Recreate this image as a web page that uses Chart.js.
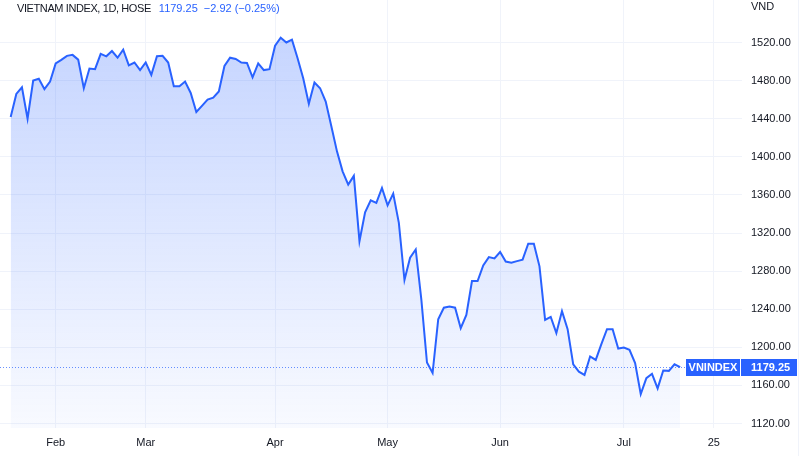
<!DOCTYPE html>
<html>
<head>
<meta charset="utf-8">
<script src="https://cdn.jsdelivr.net/npm/chart.js@4.4.1/dist/chart.umd.min.js"></script>
<style>
  html, body { margin: 0; padding: 0; background: #fff; }
  #wrap { position: relative; width: 810px; height: 456px; }
  #legend {
    position: absolute; left: 17px; top: 2px;
    font: 11px "Liberation Sans", Arial, sans-serif; color: #131722;
    white-space: nowrap;
  }
  #legend .name { letter-spacing: -0.4px; margin-right: 8px; }
  #legend .val { color: #2962ff; margin-right: 6px; }
</style>
</head>
<body>
<div id="wrap">
  <canvas id="chart" width="810" height="456"></canvas>
  <div id="legend"></div>
</div>
<script>
// VN-Index daily closes, 19 Jan - 15 Jul 2022
const janCloses = [1441.7, 1466, 1473, 1440, 1480, 1482, 1471, 1479];
const febCloses = [1498, 1501.7, 1506, 1507, 1502, 1472, 1492.6, 1492, 1508, 1505.5, 1511, 1504, 1512.5, 1496, 1499, 1491];
const marCloses = [1499, 1486, 1505.5, 1506, 1499, 1474, 1474, 1479, 1467, 1447, 1453.5, 1460, 1462, 1468.5, 1495.4, 1504, 1502.7, 1499, 1498.5, 1483.5, 1498, 1491, 1492];
const aprCloses = [1516.6, 1525, 1520, 1523, 1503.5, 1482.5, 1455.6, 1478, 1472, 1458, 1432, 1405.7, 1384.7, 1370.8, 1380, 1311.4, 1341.8, 1354.4, 1351.6, 1367.3];
const mayCloses = [1349, 1361.4, 1330.7, 1270.6, 1294, 1302.7, 1250, 1184, 1173, 1229.5, 1241.6, 1242.7, 1241.6, 1220, 1234, 1269.6, 1269.6, 1286, 1294.7, 1293.3];
const junCloses = [1300, 1290, 1288.8, 1290.5, 1292, 1308.7, 1308.7, 1285, 1228.7, 1232, 1215, 1238, 1219, 1182, 1174.4, 1171, 1190.4, 1186.8, 1203.3, 1219, 1219, 1198.7];
const julCloses = [1199.8, 1197.3, 1183.4, 1150.9, 1167.6, 1172.2, 1156.9, 1175.7, 1175.3, 1182.17, 1179.25];

// time axis: trading-day index of each label
const xTickIdx = [8, 24, 47, 67, 87, 109, 125];
const xTickLabels = ['Feb', 'Mar', 'Apr', 'May', 'Jun', 'Jul', '25'];
const priceTicks = [1120, 1160, 1200, 1240, 1280, 1320, 1360, 1400, 1440, 1480, 1520];

const closes = [].concat(janCloses, febCloses, marCloses, aprCloses, mayCloses, junCloses, julCloses);
const last = closes[closes.length - 1];
const prev = closes[closes.length - 2];
const chg = last - prev;
const pct = chg / prev * 100;
const fmt = v => (v < 0 ? '\u2212' : '') + Math.abs(v).toFixed(2);

document.getElementById('legend').innerHTML =
  '<span class="name">VIETNAM INDEX, 1D, HOSE</span>' +
  '<span class="val">' + last.toFixed(2) + '</span>' +
  '<span class="val">' + fmt(chg) + ' (' + fmt(pct) + '%)</span>';

const BLUE = '#2962ff';
const TEXT = '#131722';
const GRID = '#f0f3fa';
const FONT = { family: '"Liberation Sans", Arial, sans-serif', size: 11 };

// chart.js pads the layout for the end tick labels; we don't want that here
function noPad(s) {
  s.paddingTop = 0; s.paddingBottom = 0;
  s.paddingLeft = 0; s.paddingRight = 0;
}

const lastPricePlugin = {
  id: 'lastPrice',
  afterDraw(chart) {
    const ctx = chart.ctx;
    const ya = chart.scales.y;
    const y = Math.round(ya.getPixelForValue(last)) + 0.5;
    ctx.save();
    // dotted price line
    ctx.strokeStyle = 'rgba(41,98,255,0.7)';
    ctx.lineWidth = 1;
    ctx.setLineDash([1, 2]);
    ctx.beginPath();
    ctx.moveTo(chart.chartArea.left, y);
    ctx.lineTo(686, y);
    ctx.stroke();
    ctx.setLineDash([]);
    // boxes
    ctx.fillStyle = BLUE;
    ctx.fillRect(686, y - 8.5, 54, 17);
    ctx.fillRect(741, y - 8.5, 56, 17);
    ctx.fillStyle = '#fff';
    ctx.font = 'bold 11px "Liberation Sans", Arial, sans-serif';
    ctx.textBaseline = 'middle';
    ctx.textAlign = 'center';
    ctx.fillText('VNINDEX', 713, y + 0.5);
    ctx.textAlign = 'left';
    ctx.fillText(last.toFixed(2), 751, y + 0.5);
    // currency
    ctx.fillStyle = TEXT;
    ctx.font = '11px "Liberation Sans", Arial, sans-serif';
    ctx.fillText('VND', 751, 7);
    // right frame
    ctx.strokeStyle = GRID;
    ctx.beginPath();
    ctx.moveTo(798.5, 0);
    ctx.lineTo(798.5, 456);
    ctx.stroke();
    ctx.restore();
  }
};

new Chart(document.getElementById('chart'), {
  type: 'line',
  data: {
    datasets: [{
      data: closes.map((v, i) => ({ x: i, y: v })),
      borderColor: BLUE,
      borderWidth: 2,
      pointRadius: 0,
      tension: 0,
      fill: 'start',
      backgroundColor: (c) => {
        const area = c.chart.chartArea;
        if (!area) return 'rgba(41,98,255,0.2)';
        const g = c.chart.ctx.createLinearGradient(0, area.top + 30, 0, area.bottom);
        g.addColorStop(0, 'rgba(41,98,255,0.27)');
        g.addColorStop(1, 'rgba(41,98,255,0.03)');
        return g;
      }
    }]
  },
  options: {
    responsive: false,
    animation: false,
    layout: { padding: 0 },
    plugins: { legend: { display: false }, tooltip: { enabled: false } },
    scales: {
      x: {
        type: 'linear',
        min: -1.9,
        max: 130,
        afterBuildTicks: (s) => { s.ticks = xTickIdx.map(v => ({ value: v })); },
        afterFit: (s) => { s.height = 28; noPad(s); },
        ticks: {
          autoSkip: false, maxRotation: 0, padding: 8,
          color: TEXT, font: FONT,
          callback: (v) => xTickLabels[xTickIdx.indexOf(v)]
        },
        grid: { color: GRID, drawTicks: false },
        border: { display: false }
      },
      y: {
        position: 'right',
        min: 1115.3,
        max: 1564.6,
        afterBuildTicks: (s) => { s.ticks = priceTicks.map(v => ({ value: v })); },
        afterFit: (s) => { s.width = 68; noPad(s); },
        ticks: {
          padding: 9, color: TEXT, font: FONT,
          callback: (v) => v.toFixed(2)
        },
        grid: { color: GRID, drawTicks: false },
        border: { display: false }
      }
    }
  },
  plugins: [lastPricePlugin]
});
</script>
</body>
</html>
